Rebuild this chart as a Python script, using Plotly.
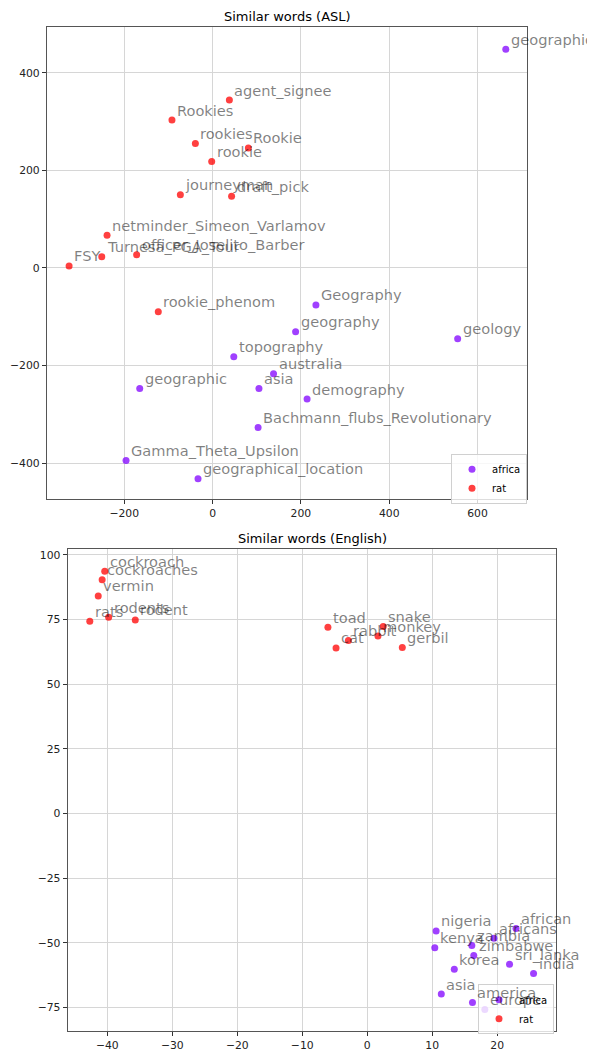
import plotly.graph_objects as go

# ---------------- data: ASL embedding ----------------
asl_africa_words = ["geographic", "Geography", "geography", "geology", "topography",
                    "australia", "asia", "geographic", "demography",
                    "Bachmann_flubs_Revolutionary", "Gamma_Theta_Upsilon",
                    "geographical_location"]
asl_africa_x = [664, 234, 188, 555, 48, 138, 105, -165, 214, 103, -196, -33]
asl_africa_y = [448, -76, -131, -145, -182, -217, -247, -247, -269, -327, -395, -432]

asl_rat_words = ["agent_signee", "Rookies", "rookies", "Rookie", "rookie", "journeyman",
                 "draft_pick", "netminder_Simeon_Varlamov", "Turnesa_PGA_Tour",
                 "officer_Joselito_Barber", "FSY", "rookie_phenom"]
asl_rat_x = [38, -92, -39, 81, -2, -73, 43, -239, -251, -172, -325, -123]
asl_rat_y = [344, 303, 255, 246, 218, 150, 147, 67, 23, 27, 4, -90]

# ---------------- data: English embedding ----------------
eng_africa_words = ["nigeria", "kenya", "zambia", "africans", "african", "zimbabwe",
                    "korea", "sri_lanka", "india", "asia", "america", "europe"]
eng_africa_x = [10.6, 10.4, 16.1, 19.5, 22.9, 16.4, 13.4, 21.9, 25.6, 11.4, 16.2, 18.1]
eng_africa_y = [-45.4, -51.9, -51.0, -48.2, -44.5, -54.9, -60.2, -58.3, -61.9, -69.8, -73.1, -75.8]

eng_rat_words = ["cockroach", "cockroaches", "vermin", "rats", "rodents", "rodent",
                 "toad", "cat", "rabbit", "monkey", "snake", "gerbil"]
eng_rat_x = [-40.4, -40.8, -41.4, -42.7, -39.8, -35.7, -6.05, -4.8, -2.9, 1.65, 2.46, 5.4]
eng_rat_y = [93.6, 90.4, 84.1, 74.3, 75.9, 74.8, 72.0, 64.0, 66.9, 68.6, 72.3, 64.2]

titles = ["Similar words (ASL)", "Similar words (English)"]
series_names = ["africa", "rat"]

PURPLE = "rgba(128,0,255,0.75)"
RED = "rgba(255,0,0,0.75)"
FONT = "DejaVu Sans"
OFF = 8                      # page body margin
W, H = 595, 1052 - OFF


def px(p):
    return (p - OFF) / W


def py(p):
    return 1 - (p - OFF) / H


fig = go.Figure()

panels = [
    ("x", "y", "legend", [(asl_africa_words, asl_africa_x, asl_africa_y, PURPLE),
                          (asl_rat_words, asl_rat_x, asl_rat_y, RED)]),
    ("x2", "y2", "legend2", [(eng_africa_words, eng_africa_x, eng_africa_y, PURPLE),
                             (eng_rat_words, eng_rat_x, eng_rat_y, RED)]),
]

annotations = []
for xa, ya, leg, groups in panels:
    for name, (words, xs, ys, col) in zip(series_names, groups):
        fig.add_trace(go.Scatter(
            x=xs, y=ys, mode="markers", name=name, xaxis=xa, yaxis=ya, legend=leg,
            marker=dict(color=col, size=7, line=dict(width=0)),
            cliponaxis=False,
        ))
        for w, xv, yv in zip(words, xs, ys):
            annotations.append(dict(
                x=xv, y=yv, xref=xa, yref=ya, text=w, showarrow=False,
                xanchor="left", yanchor="middle", xshift=3, yshift=10,
                font=dict(family=FONT, size=14.6, color="rgba(0,0,0,0.5)"),
            ))

dom_top_x = [px(47), px(527)]
dom_top_y = [py(501), py(27)]
dom_bot_x = [px(67.7), px(556.3)]
dom_bot_y = [py(1035.7), py(551.7)]

annotations.append(dict(x=sum(dom_top_x) / 2, y=py(16.7), xref="paper", yref="paper",
                        text=titles[0], showarrow=False, xanchor="center", yanchor="middle",
                        font=dict(family=FONT, size=13, color="black")))
annotations.append(dict(x=sum(dom_bot_x) / 2, y=py(541), xref="paper", yref="paper",
                        text=titles[1], showarrow=False, xanchor="center", yanchor="middle",
                        font=dict(family=FONT, size=13, color="black")))

axis_common = dict(
    showline=True, linecolor="#555", linewidth=1.2, mirror=True,
    ticks="outside", ticklen=4, tickcolor="#333", tickwidth=1,
    showgrid=True, gridcolor="#d6d6d6", gridwidth=1.2, zeroline=False,
    tickfont=dict(family=FONT, size=10.8, color="#222"),
)

legend_common = dict(
    bgcolor="rgba(255,255,255,0.8)", bordercolor="#d0d0d0", borderwidth=1,
    font=dict(family=FONT, size=10, color="black"),
    xanchor="left", yanchor="top", tracegroupgap=0, itemwidth=30,
)

fig.update_layout(
    width=W, height=H, margin=dict(l=0, r=0, t=0, b=0),
    paper_bgcolor="white", plot_bgcolor="white",
    showlegend=True,
    xaxis=dict(domain=dom_top_x, range=[-375, 712], dtick=200, anchor="y", **axis_common),
    yaxis=dict(domain=dom_top_y, range=[-473, 494], dtick=200, anchor="x", **axis_common),
    xaxis2=dict(domain=dom_bot_x, range=[-46.1, 29.1], dtick=10, anchor="y2", **axis_common),
    yaxis2=dict(domain=dom_bot_y, range=[-84, 102.2], dtick=25, anchor="x2", **axis_common),
    legend=dict(x=px(451), y=py(456), **legend_common),
    legend2=dict(x=px(478), y=py(989), **legend_common),
    annotations=annotations,
)

fig.write_html("out.html")
